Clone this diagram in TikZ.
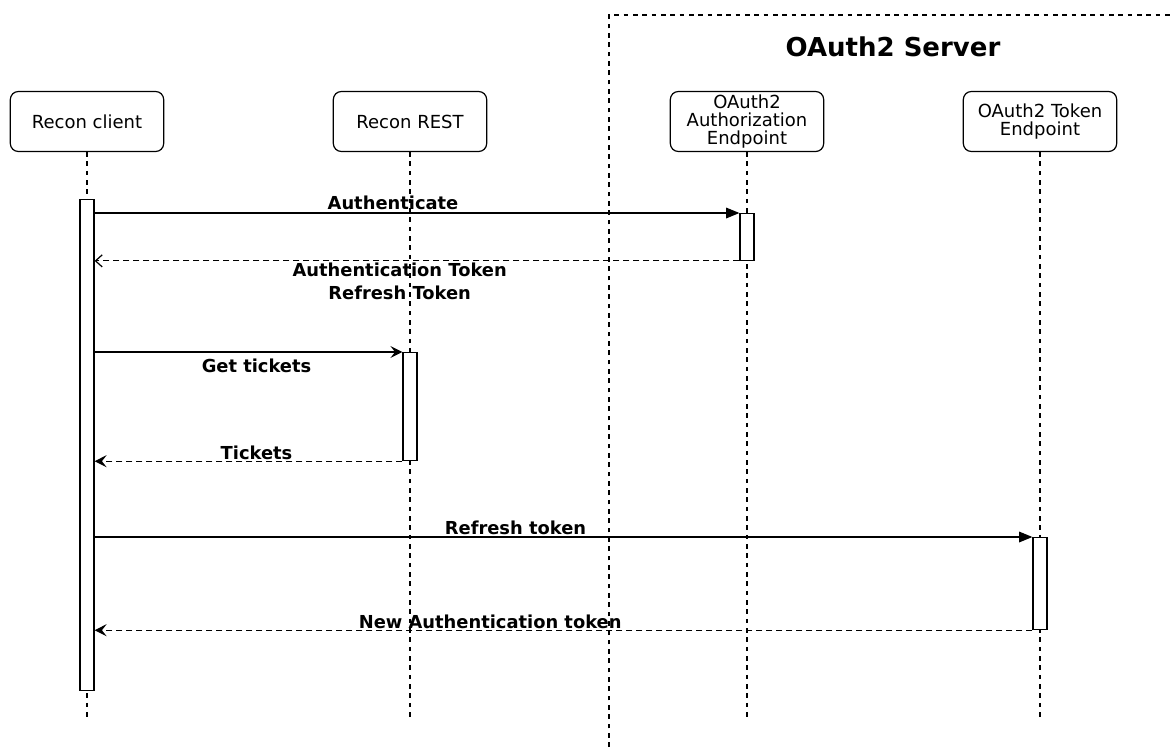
\documentclass[tikz,border=0pt]{standalone}
\usepackage{fontspec}
\setmainfont{DejaVu Sans}
\usetikzlibrary{arrows.meta}
\begin{document}
\begin{tikzpicture}[x=0.75pt,y=-0.75pt]
  \tikzset{
    actor/.style={draw,rounded corners=6pt,line width=0.9pt,minimum width=115pt,minimum height=45pt,
      align=center,inner sep=1pt,font=\fontsize{13.5pt}{13.6pt}\selectfont},
    bar/.style={draw,fill=white,line width=0.9pt,minimum width=10.5pt,inner sep=0pt},
    life/.style={line width=0.8pt,dash pattern=on 3.5pt off 3.5pt},
    msg/.style={line width=0.9pt},
    ret/.style={msg,dash pattern=on 4.5pt off 3pt},
    lbl/.style={font=\bfseries\fontsize{13.4pt}{17pt}\selectfont,align=center,inner sep=1pt},
  }
  \useasboundingbox (0,0) rectangle (1174,747);
  % server frame
  \draw[life] (609,747) -- (609,15) -- (1174,15);
  \node[font=\bfseries\fontsize{19.5pt}{22pt}\selectfont] (server) at (893,47) {OAuth2 Server};
  % actors
  \node[actor] (client) at (87,121.5)  {Recon client};
  \node[actor] (rest)   at (410,121.5) {Recon REST};
  \node[actor] (authz)  at (747,121.5) {OAuth2\\Authorization\\Endpoint};
  \node[actor] (token)  at (1040,121.5) {OAuth2 Token\\Endpoint};
  % lifelines
  \foreach \a in {client,rest,authz,token}
    \draw[life] (\a.south) -- (\a.south |- 0,720);
  % activation bars
  \node[bar,minimum height=368pt,anchor=north] (clientbar) at (87,199) {};
  \node[bar,minimum height=35pt,anchor=north]  (authzbar)  at (747,213) {};
  \node[bar,minimum height=81pt,anchor=north]  (restbar)   at (410,352) {};
  \node[bar,minimum height=69pt,anchor=north]  (tokenbar)  at (1040,537) {};
  % messages
  \draw[msg,-{Triangle[length=10pt,width=8pt]}] (clientbar.east |- authzbar.north) -- (authzbar.north west)
    node[lbl,midway,above=1pt,xshift=-18pt] {Authenticate};
  \draw[ret,-{Straight Barb[length=5pt,width=9pt]}] (authzbar.south west) -- (clientbar.east |- authzbar.south)
    node[lbl,midway,below=0pt,xshift=-13pt] {Authentication Token\\Refresh Token};
  \draw[msg,-{Stealth[length=9pt,width=9pt,inset=3.5pt]}] (clientbar.east |- restbar.north) -- (restbar.north west)
    node[lbl,midway,below=4pt,xshift=6pt] {Get tickets};
  \draw[ret,-{Stealth[length=9pt,width=9pt,inset=3.5pt]}] (restbar.south west) -- (clientbar.east |- restbar.south)
    node[lbl,midway,above=0pt,xshift=6pt] {Tickets};
  \draw[msg,-{Triangle[length=10pt,width=8pt]}] (clientbar.east |- tokenbar.north) -- (tokenbar.north west)
    node[lbl,midway,above=0pt,xshift=-36pt] {Refresh token};
  \draw[ret,-{Stealth[length=9pt,width=9pt,inset=3.5pt]}] (tokenbar.south west) -- (clientbar.east |- tokenbar.south)
    node[lbl,midway,above=0pt,xshift=-55pt] {New Authentication token};
\end{tikzpicture}
\end{document}
